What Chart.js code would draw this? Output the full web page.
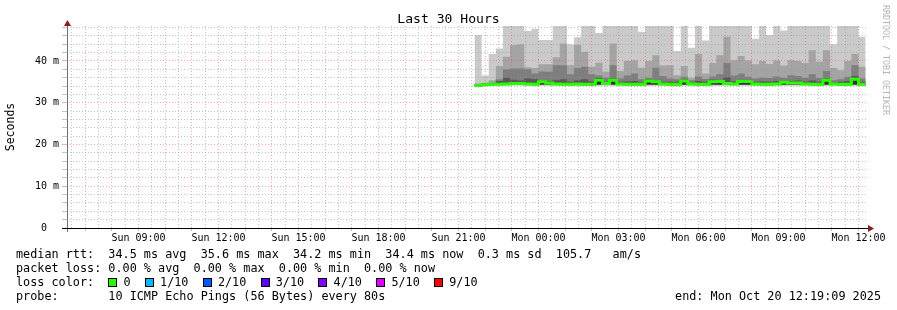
<!DOCTYPE html>
<html><head><meta charset="utf-8">
<script src="https://cdn.jsdelivr.net/npm/chart.js@4.4.1/dist/chart.umd.min.js"></script>
<style>
html,body{margin:0;padding:0;background:#fff;}
#wrap{position:relative;width:897px;height:310px;overflow:hidden;font-family:"DejaVu Sans Mono",monospace;}
#c{position:absolute;left:0;top:0;}
.t{position:absolute;white-space:pre;color:#000;font-size:11.8px;line-height:14px;}
.box{display:inline-block;width:9px;height:9px;box-sizing:border-box;border:1px solid #000;vertical-align:-1px;margin-right:calc(2ch + 1px - 9px);}
#title{position:absolute;left:0;width:897px;top:11px;text-align:center;font-size:13.1px;line-height:16px;white-space:pre;}
#wm{position:absolute;left:881px;top:5px;writing-mode:vertical-rl;font-size:8.3px;line-height:10px;color:#b4b4b4;white-space:pre;}
</style></head><body>
<div id="wrap">
<canvas id="c" width="897" height="310"></canvas>
<div id="title">Last 30 Hours</div>
<div id="wm">RRDTOOL / TOBI OETIKER</div>
<div class="t" id="l1" style="left:16px;top:247px;"></div>
<div class="t" id="l2" style="left:16px;top:261px;"></div>
<div class="t" id="l3" style="left:16px;top:275px;"></div>
<div class="t" id="l4" style="left:16px;top:289px;"></div>
<div class="t" id="l5" style="right:16px;top:289px;"></div>
</div>
<script>
// ---- time frame (hours since Sun 00:00) ----
const viewStart = 6 + 19/60 + 9/3600;   // Sun 06:19:09
const viewHours = 30;
const dataStart = 21.6;                 // first step Sun 21:36
const stepHours = 16/60;                // 16 minute steps

// ---- axis ticks ----
const xTickHours  = [9, 12, 15, 18, 21, 24, 27, 30, 33, 36];
const xTickLabels = ["Sun 09:00","Sun 12:00","Sun 15:00","Sun 18:00","Sun 21:00","Mon 00:00","Mon 03:00","Mon 06:00","Mon 09:00","Mon 12:00"];
const yTickValues = [0, 10, 20, 30, 40];
const yTickLabels = ["0  ", "10 m", "20 m", "30 m", "40 m"];
const yMax = 48.38;

// ---- smoke: sorted pings (ms), 10 pings per step ----
const ping10 = [46.2,36.5,41.7,43.0,50.0,50.0,50.0,47.2,47.7,45.0,
 45.0,50.0,50.0,44.0,45.7,50.0,50.0,46.7,50.0,50.0,
 50.0,50.0,50.0,47.0,50.0,50.0,50.0,50.0,42.4,50.0,
 43.2,50.0,44.9,50.0,50.0,50.0,50.0,50.0,50.0,45.3,
 50.0,46.2,50.0,47.3,50.0,50.0,50.0,50.0,50.0,50.0,
 44.0,50.0,50.0,50.0,45.8];
const ping9 = [34.6,34.8,35.4,38.8,41.0,43.8,44.0,38.5,38.3,39.2,
 39.2,40.9,44.2,39.0,43.8,42.2,38.6,39.6,37.4,44.2,
 37.6,40.0,40.2,38.4,40.0,41.4,38.9,39.0,36.6,38.8,
 36.0,41.7,37.0,39.5,41.4,45.8,40.2,41.2,40.1,39.2,
 40.0,39.3,40.1,38.9,40.2,40.0,39.5,42.6,39.8,42.6,
 38.3,37.8,40.0,41.7,38.6];
const ping8 = [34.5,34.6,34.8,35.6,38.0,38.2,38.2,38.0,37.0,37.5,
 37.4,39.0,38.9,36.8,38.3,38.6,36.8,36.5,36.0,39.0,
 35.8,36.5,37.0,35.6,36.0,38.4,36.4,35.8,35.6,36.2,
 35.4,36.3,35.7,36.3,36.8,39.5,36.5,37.0,36.2,35.8,
 36.0,35.9,36.3,36.0,36.6,36.4,36.0,36.8,35.9,37.6,
 35.4,35.6,36.2,39.0,35.8];
const ping7 = [34.4,34.5,34.7,35.2,36.0,35.5,35.3,35.8,35.6,35.3,
 35.2,35.4,35.6,35.0,35.4,35.6,35.1,35.9,35.0,35.8,
 35.0,35.1,35.2,34.9,35.6,35.4,35.0,35.0,35.0,35.6,
 34.9,35.2,35.0,35.5,35.4,36.1,35.1,35.4,35.3,35.0,
 35.1,35.0,35.2,35.2,35.2,35.3,35.1,35.3,35.0,35.8,
 34.9,35.0,35.2,36.4,35.0];
const ping6 = [34.3,34.5,34.6,34.7,34.8,34.9,34.8,34.8,34.7,35.2,
 35.0,34.8,34.7,34.6,34.8,34.7,34.6,35.6,34.8,35.6,
 34.7,34.6,34.7,34.6,35.4,35.2,34.7,34.6,34.6,35.4,
 34.7,34.6,34.6,35.2,35.3,34.9,34.7,35.3,35.3,34.7,
 34.6,34.6,34.7,35.1,34.9,34.9,34.7,34.6,34.6,35.6,
 34.7,34.6,34.6,35.8,34.6];
const ping5 = [34.0,34.2,34.3,34.3,34.4,34.4,34.4,34.4,34.3,34.4,
 34.4,34.4,34.3,34.3,34.4,34.3,34.3,34.4,34.4,34.4,
 34.4,34.3,34.3,34.3,34.4,34.4,34.4,34.3,34.3,34.4,
 34.4,34.3,34.3,34.4,34.4,34.4,34.4,34.4,34.4,34.4,
 34.3,34.3,34.4,34.4,34.4,34.4,34.4,34.3,34.3,34.4,
 34.4,34.3,34.3,34.4,34.3];
const ping4 = [33.95,34.2,34.25,34.3,34.3,34.35,34.35,34.3,34.25,34.3,
 34.3,34.3,34.25,34.25,34.3,34.25,34.25,34.3,34.3,34.3,
 34.3,34.25,34.25,34.25,34.3,34.3,34.3,34.25,34.25,34.3,
 34.3,34.25,34.25,34.3,34.3,34.3,34.3,34.3,34.3,34.3,
 34.25,34.25,34.3,34.3,34.3,34.3,34.3,34.25,34.25,34.3,
 34.3,34.25,34.25,34.3,34.25];
const ping3 = [33.9,34.2,34.2,34.25,34.25,34.3,34.3,34.25,34.2,34.25,
 34.25,34.25,34.2,34.2,34.25,34.2,34.2,34.25,34.25,34.25,
 34.25,34.2,34.2,34.2,34.25,34.25,34.25,34.2,34.2,34.25,
 34.25,34.2,34.2,34.25,34.25,34.25,34.25,34.25,34.25,34.25,
 34.2,34.2,34.25,34.25,34.25,34.25,34.25,34.2,34.2,34.25,
 34.25,34.2,34.2,34.25,34.2];
const ping2 = [33.85,34.15,34.15,34.2,34.2,34.25,34.25,34.2,34.15,34.2,
 34.2,34.2,34.15,34.15,34.2,34.15,34.15,34.2,34.2,34.2,
 34.2,34.15,34.15,34.15,34.2,34.2,34.2,34.15,34.15,34.2,
 34.2,34.15,34.15,34.2,34.2,34.2,34.2,34.2,34.2,34.2,
 34.15,34.15,34.2,34.2,34.2,34.2,34.2,34.15,34.15,34.2,
 34.2,34.15,34.15,34.2,34.15];
const ping1 = [33.7,34.0,34.1,34.1,34.1,34.15,34.1,34.1,34.0,34.1,
 34.1,34.1,34.05,34.0,34.1,34.05,34.0,34.1,34.1,34.1,
 34.1,34.05,34.0,34.05,34.1,34.1,34.1,34.0,33.9,34.1,
 34.1,34.05,34.0,34.1,34.1,34.1,34.1,34.1,34.1,34.1,
 34.05,34.0,34.1,34.1,34.1,34.1,34.1,34.05,34.0,34.1,
 34.1,34.05,34.0,34.1,34.05];
const median = [34.1,34.3,34.4,34.4,34.5,34.6,34.6,34.5,34.4,35.0,
 34.7,34.5,34.4,34.4,34.5,34.4,34.4,35.4,34.6,35.4,
 34.5,34.4,34.4,34.4,35.2,35.0,34.5,34.4,34.4,35.2,
 34.5,34.4,34.4,35.0,35.1,34.6,34.5,35.1,35.1,34.5,
 34.4,34.4,34.5,34.9,34.7,34.7,34.5,34.4,34.4,35.4,
 34.5,34.4,34.4,35.6,34.4];

// ---- legend texts ----
const legendRtt  = "median rtt:  34.5 ms avg  35.6 ms max  34.2 ms min  34.4 ms now  0.3 ms sd  105.7   am/s";
const legendLoss = "packet loss: 0.00 % avg  0.00 % max  0.00 % min  0.00 % now";
const lossLabels = ["0","1/10","2/10","3/10","4/10","5/10","9/10"];
const lossColors = ["#26ff00","#00b8ff","#0059ff","#5e00ff","#7e00ff","#dd00ff","#ff0000"];
const legendProbe = "probe:       10 ICMP Echo Pings (56 Bytes) every 80s";
const legendEnd = "end: Mon Oct 20 12:19:09 2025";
const smokeGrays = ["#cacaca","#a4a4a4","#7e7e7e","#585858","#323232"];

document.getElementById('l1').textContent = legendRtt;
document.getElementById('l2').textContent = legendLoss;
document.getElementById('l4').textContent = legendProbe;
document.getElementById('l5').textContent = legendEnd;
(function(){
  const el = document.getElementById('l3');
  el.appendChild(document.createTextNode("loss color:  "));
  lossLabels.forEach((lab, i) => {
    const b = document.createElement('span');
    b.className = 'box'; b.style.background = lossColors[i];
    el.appendChild(b);
    el.appendChild(document.createTextNode(lab + (i < lossLabels.length - 1 ? "  " : "")));
  });
})();

function series(vals){
  const pts = vals.map((v, i) => ({x: dataStart + i * stepHours, y: v}));
  pts.push({x: dataStart + vals.length * stepHours, y: vals[vals.length - 1]});
  return pts;
}
function band(upper, lower, color){
  return [
    {data: series(upper), stepped: 'before', borderColor: 'transparent', borderWidth: 1, pointRadius: 0, backgroundColor: color, fill: '+1'},
    {data: series(lower), stepped: 'before', borderColor: 'transparent', borderWidth: 1, pointRadius: 0, fill: false}
  ];
}
const datasets = [
  {data: series(median), stepped: 'before', borderColor: lossColors[0], borderWidth: 3, pointRadius: 0, fill: false, borderCapStyle: 'butt', borderJoinStyle: 'miter'},
  ...band(ping6, ping5, smokeGrays[4]),
  ...band(ping7, ping4, smokeGrays[3]),
  ...band(ping8, ping3, smokeGrays[2]),
  ...band(ping9, ping2, smokeGrays[1]),
  ...band(ping10, ping1, smokeGrays[0])
];

const minorGrid = 'rgba(150,150,150,0.55)';
const majorGrid = 'rgba(240,70,70,0.45)';

const axesPlugin = {
  id: 'axes',
  afterDraw(chart){
    const {ctx, chartArea: a} = chart;
    ctx.save();
    ctx.strokeStyle = '#707070'; ctx.lineWidth = 1;
    ctx.beginPath(); ctx.moveTo(a.left + 0.5, a.bottom + 4); ctx.lineTo(a.left + 0.5, a.top - 2); ctx.stroke();
    ctx.strokeStyle = '#000';
    ctx.beginPath(); ctx.moveTo(a.left - 5, a.bottom + 0.5); ctx.lineTo(a.right + 2, a.bottom + 0.5); ctx.stroke();
    ctx.fillStyle = '#8b1c1c';
    ctx.beginPath(); ctx.moveTo(a.left - 3, a.top); ctx.lineTo(a.left + 4, a.top); ctx.lineTo(a.left + 0.5, a.top - 6); ctx.closePath(); ctx.fill();
    ctx.beginPath(); ctx.moveTo(a.right + 1, a.bottom - 3); ctx.lineTo(a.right + 1, a.bottom + 4); ctx.lineTo(a.right + 7, a.bottom + 0.5); ctx.closePath(); ctx.fill();
    ctx.restore();
  }
};

new Chart(document.getElementById('c'), {
  type: 'line',
  data: {datasets},
  options: {
    responsive: false, animation: false, events: [],
    layout: {padding: {top: 26, right: 30, left: 0, bottom: 0}},
    plugins: {legend: {display: false}, tooltip: {enabled: false}, title: {display: false}},
    scales: {
      x: {
        type: 'linear', min: viewStart, max: viewStart + viewHours,
        afterFit(s){ s.height = 82; },
        afterBuildTicks(s){
          const t = [];
          for (let h = Math.ceil(viewStart * 2) / 2; h <= viewStart + viewHours; h += 0.5) t.push({value: h});
          s.ticks = t;
        },
        ticks: {
          autoSkip: false, maxRotation: 0, minRotation: 0, padding: 1, color: '#000',
          font: {family: 'DejaVu Sans Mono', size: 10},
          callback(v){ const k = xTickHours.findIndex(h => Math.abs(h - v) < 1e-6); return k >= 0 ? xTickLabels[k] : ''; }
        },
        grid: {
          z: 1, drawTicks: true, tickLength: 3,
          color(c){ const v = c.tick.value; return Math.abs(v - Math.round(v)) < 1e-6 ? majorGrid : minorGrid; },
          tickColor(c){ const v = c.tick.value; return Math.abs(v - Math.round(v)) < 1e-6 ? majorGrid : 'rgba(0,0,0,0)'; }
        },
        border: {display: false, dash: [1, 2]}
      },
      y: {
        type: 'linear', min: 0, max: yMax,
        afterFit(s){ s.width = 67; },
        afterBuildTicks(s){
          const t = [];
          for (let v = 0; v <= 48; v += 2) t.push({value: v});
          s.ticks = t;
        },
        ticks: {
          autoSkip: false, padding: 3, color: '#000',
          font: {family: 'DejaVu Sans Mono', size: 10},
          callback(v){ const k = yTickValues.indexOf(v); return k >= 0 ? yTickLabels[k] : ''; }
        },
        grid: {
          z: 1, drawTicks: true, tickLength: 5,
          color(c){ const v = c.tick.value; if (v === 0) return 'rgba(0,0,0,0)'; return v % 10 === 0 ? majorGrid : minorGrid; },
          tickColor(c){ const v = c.tick.value; if (v === 0) return 'rgba(0,0,0,0)'; return v % 10 === 0 ? majorGrid : minorGrid; }
        },
        border: {display: false, dash: [1, 2]},
        title: {display: true, text: 'Seconds', color: '#000', padding: {top: 4, bottom: 0}, font: {family: 'DejaVu Sans Mono', size: 11.5}}
      }
    }
  },
  plugins: [axesPlugin]
});
</script>
</body></html>
